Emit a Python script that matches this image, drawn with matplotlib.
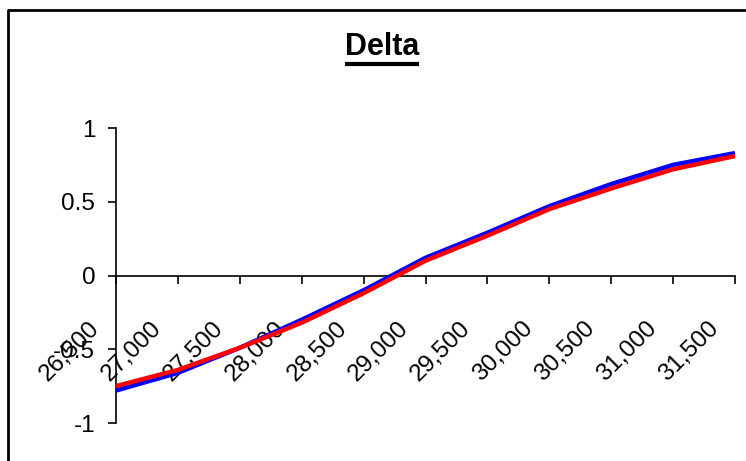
import matplotlib
matplotlib.use('Agg')
import matplotlib.pyplot as plt
import matplotlib.transforms as mtransforms
from matplotlib.lines import Line2D

# Data
strikes = [26500, 27000, 27500, 28000, 28500, 29000, 29500, 30000, 30500, 31000, 31500]
strike_labels = [f"{s:,}" for s in strikes]
delta_blue = [-0.78, -0.66, -0.49, -0.30, -0.10, 0.12, 0.29, 0.47, 0.62, 0.75, 0.83]
delta_red = [-0.75, -0.64, -0.49, -0.32, -0.12, 0.10, 0.27, 0.45, 0.59, 0.72, 0.81]
y_ticks = [-1, -0.5, 0, 0.5, 1]
y_labels = ['-1', '-0.5', '0', '0.5', '1']

plt.rcParams['font.family'] = ['Liberation Sans', 'DejaVu Sans']

W, H = 746, 461
fig = plt.figure(figsize=(W / 100, H / 100), dpi=100)
fig.patch.set_facecolor('white')

# plot area in pixels: x 116..735, y 128..423 (from top)
ax = fig.add_axes([116 / W, (H - 423) / H, (735 - 116) / W, (423 - 128) / H])
ax.set_facecolor('none')

ax.plot(strikes, delta_blue, color='#0000FF', lw=3.2, clip_on=False, solid_capstyle='butt', zorder=3)
ax.plot(strikes, delta_red, color='#FF0000', lw=3.2, clip_on=False, solid_capstyle='butt', zorder=4)

ax.set_xlim(strikes[0], strikes[-1])
ax.set_ylim(-1, 1)

for side in ['top', 'right']:
    ax.spines[side].set_visible(False)
ax.spines['bottom'].set_position(('data', 0))
for side in ['left', 'bottom']:
    ax.spines[side].set_linewidth(1.2)
    ax.spines[side].set_color('black')

ax.set_yticks(y_ticks)
ax.set_yticklabels(y_labels, fontsize=17.5)
ax.tick_params(axis='y', direction='out', length=6, width=1.2, pad=9)

ax.set_xticks(strikes)
ax.set_xticklabels(strike_labels, fontsize=17.5, rotation=45,
                   rotation_mode='anchor', ha='right', va='center')
ax.tick_params(axis='x', direction='out', length=6, width=1.2, pad=0)
shift = mtransforms.ScaledTranslation(-20 / 100, -41 / 100, fig.dpi_scale_trans)
for lab in ax.get_xticklabels():
    lab.set_transform(lab.get_transform() + shift)

# title with underline
title = fig.text(382 / W, 1 - 55 / H, 'Delta', ha='center', va='baseline',
                 fontsize=22, fontweight='bold')
fig.canvas.draw()
bb = title.get_window_extent()
uy = 1 - 64.5 / H
fig.add_artist(Line2D([bb.x0 / W, bb.x1 / W], [uy, uy], color='black', lw=3,
                      solid_capstyle='butt', transform=fig.transFigure))

# chart area border (right and bottom edges fall outside the image)
fig.add_artist(Line2D([7.5 / W, 7.5 / W, 1.01], [-0.01, 1 - 10 / H, 1 - 10 / H],
                      color='black', lw=2, transform=fig.transFigure))

fig.savefig('out.png', dpi=100)
